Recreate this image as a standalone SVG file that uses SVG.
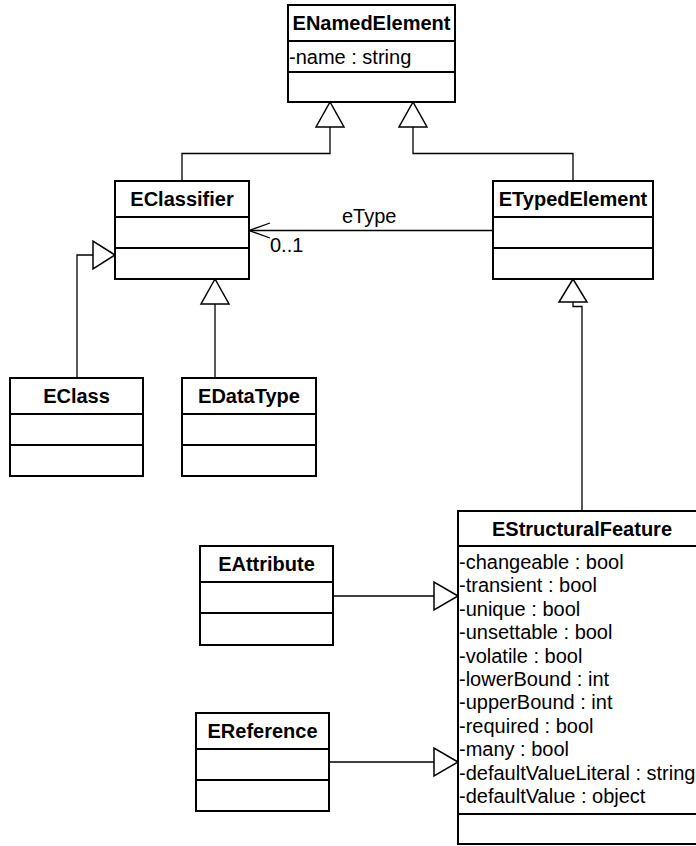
<svg xmlns="http://www.w3.org/2000/svg" width="696" height="846" viewBox="0 0 696 846">
  <style>
    .box { fill: #ffffff; stroke: #000000; stroke-width: 2; }
    .div { stroke: #000000; stroke-width: 2; }
    .title { font-family: "Liberation Sans", Arial, sans-serif; font-size: 20px; font-weight: bold; text-anchor: middle; fill: #000000; }
    .attr { font-family: "Liberation Sans", Arial, sans-serif; font-size: 20px; fill: #000000; }
    .lbl { font-family: "Liberation Sans", Arial, sans-serif; font-size: 20px; fill: #000000; }
    .wire { fill: none; stroke: #000000; stroke-width: 1.3; }
    .gen { fill: #ffffff; stroke: #000000; stroke-width: 1.5; stroke-linejoin: miter; }
  </style>
  <rect width="696" height="846" fill="#ffffff"/>

  <!-- connectors -->
  <g id="connectors">
    <!-- EClassifier -> ENamedElement -->
    <polyline class="wire" points="330,127 330,153.5 182,153.5 182,181"/>
    <polygon class="gen" points="330,102 316,127 344,127"/>
    <!-- ETypedElement -> ENamedElement -->
    <polyline class="wire" points="413,127 413,153.5 573,153.5 573,181"/>
    <polygon class="gen" points="413,102 399,127 427,127"/>
    <!-- eType association -->
    <line class="wire" x1="249" y1="230.5" x2="493" y2="230.5"/>
    <polyline class="wire" points="270,223 249,230.5 270,238"/>
    <text class="lbl" x="342" y="223">eType</text>
    <text class="lbl" x="270" y="252">0..1</text>
    <!-- EClass -> EClassifier -->
    <polyline class="wire" points="93,255 77,255 77,378"/>
    <polygon class="gen" points="115,255 93,241 93,269"/>
    <!-- EDataType -> EClassifier -->
    <line class="wire" x1="215" y1="304" x2="215" y2="378"/>
    <polygon class="gen" points="215,279 201,304 229,304"/>
    <!-- EStructuralFeature -> ETypedElement -->
    <polyline class="wire" points="573,302 573,306.5 582,306.5 582,511"/>
    <polygon class="gen" points="573,279 559,302 587,302"/>
    <!-- EAttribute -> EStructuralFeature -->
    <line class="wire" x1="333" y1="596" x2="434" y2="596"/>
    <polygon class="gen" points="458,596 434,582 434,610"/>
    <!-- EReference -> EStructuralFeature -->
    <line class="wire" x1="329" y1="762" x2="434" y2="762"/>
    <polygon class="gen" points="458,762 434,748 434,776"/>
  </g>

  <!-- ENamedElement -->
  <g id="ENamedElement">
    <rect class="box" x="288" y="5" width="167" height="97"/>
    <line class="div" x1="288" y1="41" x2="455" y2="41"/>
    <line class="div" x1="288" y1="72" x2="455" y2="72"/>
    <text class="title" x="371.5" y="30">ENamedElement</text>
    <text class="attr" x="289" y="64">-name : string</text>
  </g>

  <!-- EClassifier -->
  <g id="EClassifier">
    <rect class="box" x="115" y="181" width="134" height="98"/>
    <line class="div" x1="115" y1="217" x2="249" y2="217"/>
    <line class="div" x1="115" y1="248" x2="249" y2="248"/>
    <text class="title" x="182" y="206">EClassifier</text>
  </g>

  <!-- ETypedElement -->
  <g id="ETypedElement">
    <rect class="box" x="493" y="181" width="160" height="98"/>
    <line class="div" x1="493" y1="217" x2="653" y2="217"/>
    <line class="div" x1="493" y1="248" x2="653" y2="248"/>
    <text class="title" x="573" y="206">ETypedElement</text>
  </g>

  <!-- EClass -->
  <g id="EClass">
    <rect class="box" x="10" y="378" width="133" height="98"/>
    <line class="div" x1="10" y1="414" x2="143" y2="414"/>
    <line class="div" x1="10" y1="445" x2="143" y2="445"/>
    <text class="title" x="76.5" y="403">EClass</text>
  </g>

  <!-- EDataType -->
  <g id="EDataType">
    <rect class="box" x="182" y="378" width="134" height="98"/>
    <line class="div" x1="182" y1="414" x2="316" y2="414"/>
    <line class="div" x1="182" y1="445" x2="316" y2="445"/>
    <text class="title" x="249" y="403">EDataType</text>
  </g>

  <!-- EAttribute -->
  <g id="EAttribute">
    <rect class="box" x="200" y="546" width="133" height="99"/>
    <line class="div" x1="200" y1="582" x2="333" y2="582"/>
    <line class="div" x1="200" y1="613" x2="333" y2="613"/>
    <text class="title" x="266.5" y="571">EAttribute</text>
  </g>

  <!-- EReference -->
  <g id="EReference">
    <rect class="box" x="196" y="713" width="133" height="98"/>
    <line class="div" x1="196" y1="749" x2="329" y2="749"/>
    <line class="div" x1="196" y1="780" x2="329" y2="780"/>
    <text class="title" x="262.5" y="738">EReference</text>
  </g>

  <!-- EStructuralFeature -->
  <g id="EStructuralFeature">
    <rect class="box" x="458" y="511" width="250" height="333"/>
    <line class="div" x1="458" y1="546" x2="708" y2="546"/>
    <line class="div" x1="458" y1="814" x2="708" y2="814"/>
    <text class="title" x="582" y="536">EStructuralFeature</text>
    <text class="attr" x="459" y="569">-changeable : bool</text>
    <text class="attr" x="459" y="592.4">-transient : bool</text>
    <text class="attr" x="459" y="615.8">-unique : bool</text>
    <text class="attr" x="459" y="639.2">-unsettable : bool</text>
    <text class="attr" x="459" y="662.6">-volatile : bool</text>
    <text class="attr" x="459" y="686">-lowerBound : int</text>
    <text class="attr" x="459" y="709.4">-upperBound : int</text>
    <text class="attr" x="459" y="732.8">-required : bool</text>
    <text class="attr" x="459" y="756.2">-many : bool</text>
    <text class="attr" x="459" y="779.6">-defaultValueLiteral : string</text>
    <text class="attr" x="459" y="803">-defaultValue : object</text>
  </g>
</svg>
